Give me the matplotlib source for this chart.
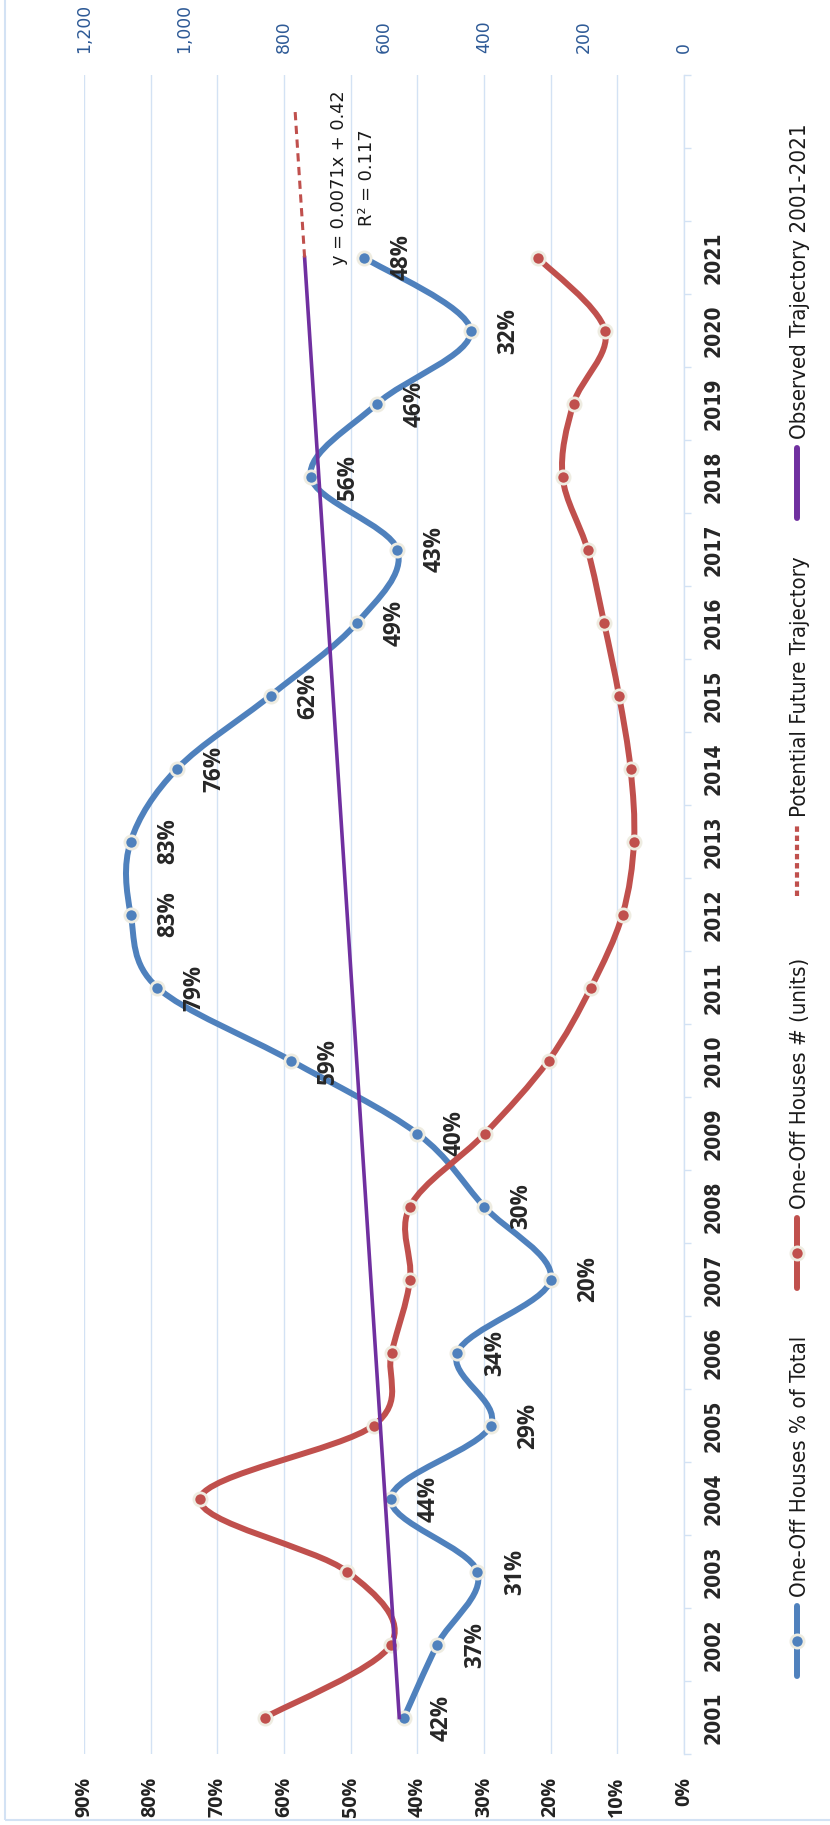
import numpy as np
import matplotlib
matplotlib.use('Agg')
import matplotlib.pyplot as plt
from matplotlib.path import Path
from matplotlib.patches import PathPatch, Rectangle
from matplotlib.lines import Line2D
from matplotlib import font_manager
from matplotlib.font_manager import FontProperties

# data
years = list(range(2001, 2022))
share_pct = [0.42, 0.37, 0.31, 0.44, 0.29, 0.34, 0.20, 0.30, 0.40, 0.59, 0.79,
             0.83, 0.83, 0.76, 0.62, 0.49, 0.43, 0.56, 0.46, 0.32, 0.48]
houses_units = [838, 586, 674, 968, 621, 585, 548, 548, 398, 271, 186,
                123, 100, 107, 130, 160, 193, 243, 221, 158, 293]
trend_slope = 0.0071
trend_intercept = 0.42
r_squared = 0.117
forecast_periods = 2
pct_ticks = [0.0, 0.1, 0.2, 0.3, 0.4, 0.5, 0.6, 0.7, 0.8, 0.9]
unit_ticks = [0, 200, 400, 600, 800, 1000, 1200]
legend_labels = ['One-Off Houses % of Total', 'One-Off Houses # (units)',
                 'Potential Future Trajectory', 'Observed Trajectory 2001-2021']

blue = '#4F81BD'
red = '#C0504D'
purple = '#7030A0'
grid_c = '#D3E2F4'
edge_c = '#EEECE1'
text_c = '#262626'

W, H = 830, 1825


def fx(px):
    return px / W


def fy(py):
    return 1 - py / H


# font lookup by file, so a bold / narrow face is really used when it exists
def wnum(w):
    if isinstance(w, str):
        return {'bold': 700, 'heavy': 800, 'black': 900, 'semibold': 600,
                'demibold': 600, 'medium': 500}.get(w, 400)
    return w


fonts = font_manager.fontManager.ttflist


def pick(tests, fallback):
    for test in tests:
        for f in fonts:
            if f.style == 'normal' and test(f):
                return f.fname
    return font_manager.findfont(fallback)


narrow_bold = pick([
    lambda f: f.name == 'Liberation Sans Narrow' and wnum(f.weight) >= 700,
    lambda f: 'SansCondensed-Bold' in f.fname and 'Oblique' not in f.fname,
    lambda f: f.name == 'Roboto' and 'Condensed' in f.fname and wnum(f.weight) >= 700,
    lambda f: f.name == 'Roboto' and wnum(f.weight) == 700,
], FontProperties(family='DejaVu Sans', weight='bold'))
narrow_reg = pick([
    lambda f: f.name == 'Liberation Sans Narrow' and wnum(f.weight) == 400,
    lambda f: f.fname.endswith('DejaVuSansCondensed.ttf'),
    lambda f: f.name == 'Roboto' and 'Condensed' in f.fname and wnum(f.weight) == 400,
    lambda f: f.name == 'Roboto' and wnum(f.weight) == 400,
], FontProperties(family='DejaVu Sans'))
label_bold = pick([
    lambda f: f.name == 'Open Sans' and wnum(f.weight) == 700,
    lambda f: f.name == 'Noto Sans' and wnum(f.weight) == 700,
    lambda f: f.name == 'Lato' and wnum(f.weight) == 700,
    lambda f: f.name == 'Roboto' and wnum(f.weight) == 700,
], FontProperties(family='DejaVu Sans', weight='bold'))
plain = font_manager.findfont(FontProperties(family='DejaVu Sans'))


def smooth_path(xs, ys):
    # excel-like smoothed line: bezier segments through the points
    pts = np.column_stack([xs, ys]).astype(float)
    n = len(pts)
    verts = [pts[0]]
    codes = [Path.MOVETO]
    for i in range(n - 1):
        p0 = pts[i - 1] if i > 0 else pts[i]
        p1 = pts[i]
        p2 = pts[i + 1]
        p3 = pts[i + 2] if i + 2 < n else pts[i + 1]
        verts += [p1 + (p2 - p0) / 6, p2 - (p3 - p1) / 6, p2]
        codes += [Path.CURVE4] * 3
    return Path(verts, codes)


fig = plt.figure(figsize=(W / 100, H / 100), dpi=100)
renderer = fig.canvas.get_renderer()


def fp_fit(fname, sample, target_px):
    # font size that gives the sample string the length seen in the reference
    t = fig.text(0, 0, sample, fontproperties=FontProperties(fname=fname, size=20))
    w = t.get_window_extent(renderer).width
    t.remove()
    return FontProperties(fname=fname, size=20 * target_px / w)


fp_year = fp_fit(narrow_bold, '2001', 53)
fp_legend = fp_fit(narrow_reg, legend_labels[0], 260)
fp_label = fp_fit(label_bold, '76%', 46)
fp_pct = fp_fit(label_bold, '20%', 40)
fp_units = fp_fit(plain, '800', 33)
fp_eq = fp_fit(plain, 'y = 0.0071x + 0.42', 175)

pos = np.arange(1, len(years) + 1)
n_cats = len(years) + forecast_periods

ax = fig.add_axes([fx(84), fy(1754), 600 / W, (1754 - 75) / H])
ax2 = ax.twiny()

# percent series
ax.add_patch(PathPatch(smooth_path(share_pct, pos), fill=False, ec=blue, lw=4.3,
                       capstyle='round', zorder=2))
ax.plot(share_pct, pos, 'o', ms=9.5, mfc=blue, mec=edge_c, mew=2, zorder=3)
for v, p in zip(share_pct, pos):
    ax.annotate(f'{v:.0%}', (v, p), xytext=(27, 0), textcoords='offset points',
                rotation=90, ha='center', va='center', fontproperties=fp_label,
                color=text_c, zorder=4)

# units series on the secondary axis
ax2.add_patch(PathPatch(smooth_path(houses_units, pos), fill=False, ec=red, lw=4.3,
                        capstyle='round', zorder=2))
ax2.plot(houses_units, pos, 'o', ms=9.5, mfc=red, mec=edge_c, mew=2, zorder=3)

# trend line and its forecast
obs_x = np.array([1, len(years)])
fc_x = np.array([len(years), n_cats])
ax2.plot(trend_slope * obs_x + trend_intercept, obs_x, color=purple, lw=2.6,
         transform=ax.transData, zorder=5)
ax2.plot(trend_slope * fc_x + trend_intercept, fc_x, color=red, lw=2.2,
         linestyle=(0, (2.7, 1.8)), transform=ax.transData, zorder=5)

ax.set_xlim(0.9, 0)
ax2.set_xlim(1200, 0)
ax.set_ylim(0.5, n_cats + 0.5)

# category axis on the right
ax.yaxis.tick_right()
ax.set_yticks(np.arange(0.5, n_cats + 1, 1))
ax.set_yticklabels([])
ax.set_yticks(pos, minor=True)
ax.set_yticklabels([str(y) for y in years], minor=True, rotation=90, va='center',
                   fontproperties=fp_year, color=text_c)
ax.tick_params(axis='y', which='major', length=5, width=1, color=grid_c, direction='out')
ax.tick_params(axis='y', which='minor', length=0, pad=14)

ax.set_xticks(pct_ticks)
ax.set_xticklabels([f'{t:.0%}' for t in pct_ticks], rotation=90,
                   fontproperties=fp_pct, color='#222222')
ax.tick_params(axis='x', length=0, pad=16.5)

ax2.set_xticks(unit_ticks)
ax2.set_xticklabels([f'{t:,}' for t in unit_ticks], rotation=90,
                    fontproperties=fp_units, color='#2E5A96')
ax2.tick_params(axis='x', length=0, pad=16)

ax.grid(axis='x', color=grid_c, lw=1.0)
ax.set_axisbelow(True)
for s in ax.spines.values():
    s.set_visible(False)
for s in ax2.spines.values():
    s.set_visible(False)
ax.spines['right'].set_visible(True)
ax.spines['right'].set_color(grid_c)
ax.spines['right'].set_linewidth(1.0)

# trend equation
fig.text(fx(339), fy(178), f'y = {trend_slope}x + {trend_intercept}', rotation=90,
         ha='center', va='center', fontproperties=fp_eq, color='#1a1a1a')
fig.text(fx(367), fy(178), f'R² = {r_squared}', rotation=90,
         ha='center', va='center', fontproperties=fp_eq, color='#1a1a1a')

# legend, drawn by hand because it is rotated
legend_style = [
    dict(color=blue, ls='-', lw=4.3, marker=True),
    dict(color=red, ls='-', lw=4.3, marker=True),
    dict(color=red, ls=(0, (1.3, 0.9)), lw=3.0, marker=False),
    dict(color=purple, ls='-', lw=4.3, marker=False),
]
legend_start = [1676, 1288, 896, 518]
for label, st, y0 in zip(legend_labels, legend_style, legend_start):
    fig.add_artist(Line2D([fx(797), fx(797)], [fy(y0), fy(y0 - 70)],
                          transform=fig.transFigure, color=st['color'], lw=st['lw'],
                          linestyle=st['ls'], solid_capstyle='round'))
    if st['marker']:
        fig.add_artist(Line2D([fx(797)], [fy(y0 - 35)], transform=fig.transFigure,
                              marker='o', ms=9.5, mfc=st['color'], mec=edge_c, mew=2))
    fig.text(fx(806), fy(y0 - 79), label, rotation=90, rotation_mode='anchor',
             ha='left', va='baseline', fontproperties=fp_legend, color='#1a1a1a')

# chart frame
fig.add_artist(Rectangle((fx(5), fy(1820)), 2, 2, transform=fig.transFigure,
                         fill=False, ec=grid_c, lw=1.5))

fig.savefig('out.png', dpi=100)
